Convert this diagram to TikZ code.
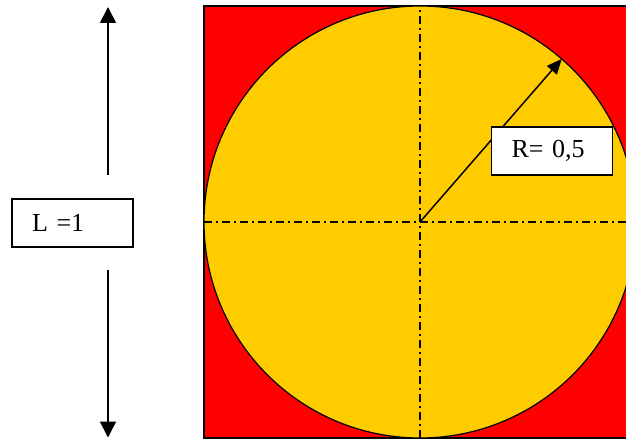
\documentclass[tikz,border=0pt]{standalone}
\usepackage{fontspec}
\setmainfont{Liberation Serif}
\usetikzlibrary{arrows.meta}
\definecolor{amarillo}{RGB}{255,204,0}
\tikzset{
  etiqueta/.style={draw, fill=white, line width=1.3pt, text width=81pt, inner xsep=20pt,
    minimum height=48pt, align=left, font=\fontsize{26}{30}\selectfont},
  ejes/.style={line width=1.5pt, dash pattern=on 8pt off 4pt on 2pt off 4pt},
  flecha/.style={line width=1.5pt, -{Triangle[width=16pt,length=16pt]}}
}
\begin{document}
\begin{tikzpicture}[x=1pt,y=1pt]
        \useasboundingbox (0,0) rectangle (626,439);
        \clip (0,0) rectangle (626,439);

        % Cuadrado y circulo
        \draw[fill=red, line width=1.8pt] (204,1) rectangle (636,433);
        \coordinate (O) at (420,217);
        \draw[fill=amarillo, line width=1.2pt] (O) circle (216);

        % Ejes
        \draw[ejes] (204,217) -- (636,217);
        \draw[ejes] (420,1) -- (420,433);

        % Radio
        \draw[flecha, -{Triangle[width=13pt,length=15pt]}] (O) -- ++(49:216) coordinate (borde);
        \node[etiqueta] (radio) at (552,288) {R= 0,5};

        % Lado L
        \coordinate (Ls) at (108,264);
        \coordinate (Li) at (108,169);
        \coordinate (Larriba) at (108,432);
        \coordinate (Labajo) at (108,1.5);
        \draw[flecha] (Ls) -- (Larriba);
        \draw[flecha] (Li) -- (Labajo);
        \node[etiqueta] (lado) at (72.5,216) {L =1};
    \end{tikzpicture}
\end{document}
